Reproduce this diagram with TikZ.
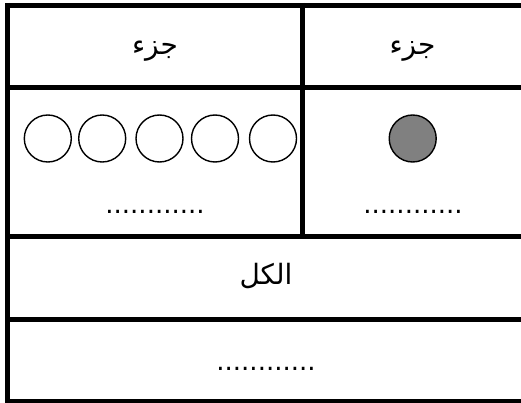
\documentclass[tikz,border=0pt]{standalone}
\usepackage{fontspec}
\newfontfamily\arabicfont[Script=Arabic]{DejaVu Sans}
\newfontfamily\dotfont{DejaVu Sans}
\TeXXeTstate=1
\begin{document}
\begin{tikzpicture}[x=1pt,y=-1pt,
  gridline/.style={line width=5pt,black},
  ring/.style={circle,draw=black,line width=1.4pt,minimum size=47pt,inner sep=0pt},
  label/.style={font=\arabicfont\fontsize{28}{32}\selectfont,inner sep=0pt},
  blank/.style={font=\dotfont\fontsize{26}{28}\selectfont,inner sep=0pt}]
\useasboundingbox (0,0) rectangle (521,403);
\fill[white] (0,0) rectangle (521,403);
% grid
\draw[gridline] (7.5,3) -- (7.5,403);
\draw[gridline] (5,5.5) -- (525,5.5);
\draw[gridline] (5,88) -- (525,88);
\draw[gridline] (5,236) -- (525,236);
\draw[gridline] (5,319) -- (525,319);
\draw[gridline] (5,401) -- (525,401);
\draw[gridline] (302.5,3) -- (302.5,238.5);
\draw[line width=5pt,black!60] (523,3) -- (523,403);
% headers
\node[label] (p1) at (155,51) {\beginR جزء\endR};
\node[label] (p2) at (412.5,51) {\beginR جزء\endR};
% circles
\node[ring] (c1) at (47.8,138.5) {};
\node[ring] (c2) at (102.2,138.5) {};
\node[ring] (c3) at (159.5,138.5) {};
\node[ring] (c4) at (215,138.5) {};
\node[ring] (c5) at (273,138.5) {};
\node[ring,fill=black!50] (g) at (412.7,138.5) {};
% blanks
\node[blank,anchor=base] (d1) at (155,214) {............};
\node[blank,anchor=base] (d2) at (413,214) {............};
\node[label] (w) at (266,276) {\beginR الكل\endR};
\node[blank,anchor=base] (d3) at (266,370) {............};
\end{tikzpicture}
\end{document}
